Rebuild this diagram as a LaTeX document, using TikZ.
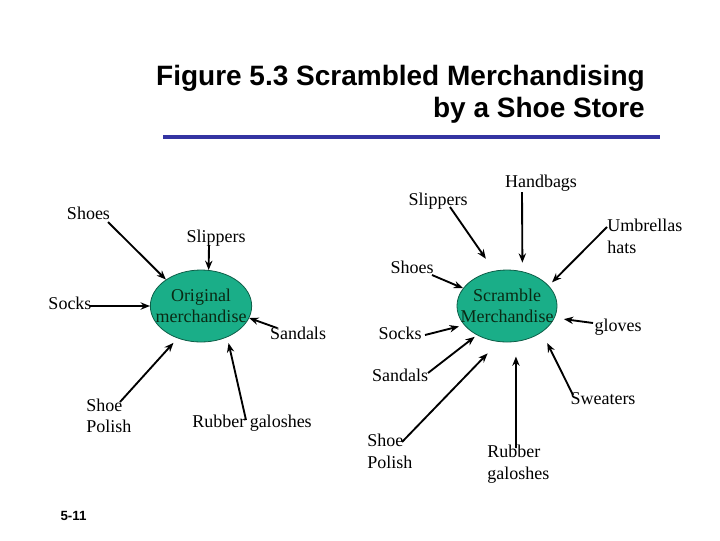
\documentclass[tikz,border=0pt]{standalone}
\usepackage{fontspec}
\setmainfont{Liberation Serif}
\newfontfamily\titlefont{Liberation Sans}
\usetikzlibrary{arrows.meta,shapes.geometric}
\definecolor{blobfill}{HTML}{1AAE88}
\definecolor{blobline}{HTML}{0E5E48}
\definecolor{blobtext}{HTML}{0A2A14}
\definecolor{rulecol}{HTML}{3434A2}

\begin{document}
\begin{tikzpicture}[x=0.75pt, y=-0.75pt,
      lbl/.style={font=\fontsize{13.5}{16.2}\selectfont, inner sep=0pt, align=left},
      blob/.style={ellipse, fill=blobfill, draw=blobline, line width=0.6pt,
                   minimum width=76pt, minimum height=54pt, inner sep=0pt},
      feed/.style={line width=1.4pt, -{Stealth[length=7pt,width=5.5pt]}}
    ]
      \useasboundingbox (0,0) rectangle (720,540);

      % title and rule
      \node[font=\titlefont\bfseries\fontsize{21}{24}\selectfont, align=right, anchor=east, inner sep=0pt]
        (title) at (645,94) {Figure 5.3 Scrambled Merchandising\\by a Shoe Store};
      \draw[rulecol, line width=3pt] (163,137) -- (660,137);

      % original merchandise
      \node[blob] (orig) at (201,306) {};
      \node[lbl, align=center, text=blobtext] (origtxt) at (orig) {Original\\merchandise};

      \node[lbl] (oshoes) at (88.5,213) {Shoes};
      \node[lbl] (oslip) at (216,238) {Slippers};
      \node[lbl] (osocks) at (70,303) {Socks};
      \node[lbl] (osand) at (298,333) {Sandals};
      \node[lbl, anchor=west] (opolish) at (86,416) {Shoe\\Polish};
      \node[lbl] (orubber) at (252,423) {Rubber galoshes};

      \coordinate (t-oshoes) at (108,222);
      \coordinate (t-oslip) at (209,245);
      \coordinate (t-osocks) at (90,306);
      \coordinate (t-osand) at (277,328);
      \coordinate (t-opolish) at (120,402);
      \coordinate (t-orubber) at (246,420);

      \draw[feed] (t-oshoes) -- (orig.143);
      \draw[feed] (t-oslip) -- (orig.78);
      \draw[feed] (t-osocks) -- (orig.180);
      \draw[feed] (t-osand) -- (orig.-14);
      \draw[feed, shorten >=4.5pt] (t-opolish) -- (orig.234);
      \draw[feed, shorten >=4.5pt] (t-orubber) -- (orig.310);

      % scrambled merchandise
      \node[blob, minimum width=75pt] (scr) at (507,306) {};
      \node[lbl, align=center, text=blobtext] (scrtxt) at (scr) {Scramble\\Merchandise};

      \node[lbl] (sbags) at (541,183) {Handbags};
      \node[lbl] (sslip) at (438,201) {Slippers};
      \node[lbl, anchor=west] (sumbr) at (607,236.5) {Umbrellas\\hats};
      \node[lbl] (sshoes) at (412,267) {Shoes};
      \node[lbl] (ssocks) at (400,333) {Socks};
      \node[lbl] (sgloves) at (618,327) {gloves};
      \node[lbl] (ssand) at (400,375) {Sandals};
      \node[lbl, anchor=west] (spolish) at (367,451.5) {Shoe\\Polish};
      \node[lbl, anchor=west] (srubber) at (487,464) {Rubber\\galoshes};
      \node[lbl] (ssweat) at (603,399) {Sweaters};

      \coordinate (t-sbags) at (522,192);
      \coordinate (t-sslip) at (450,207);
      \coordinate (t-sumbr) at (607,227);
      \coordinate (t-sshoes) at (432,275);
      \coordinate (t-ssocks) at (425,335);
      \coordinate (t-sgloves) at (593,323);
      \coordinate (t-ssand) at (428,373);
      \coordinate (t-spolish) at (402,442);
      \coordinate (t-srubber) at (516,448);
      \coordinate (t-ssweat) at (573,395);

      \draw[feed, shorten >=6.5pt] (t-sbags) -- (scr.66);
      \draw[feed, shorten >=11pt] (t-sslip) -- (scr.110);
      \draw[feed, shorten >=3.5pt] (t-sumbr) -- (scr.26);
      \draw[feed] (t-sshoes) -- (scr.158);
      \draw[feed, shorten >=4pt] (t-ssocks) -- (scr.204);
      \draw[feed, shorten >=7pt] (t-sgloves) -- (scr.-14);
      \draw[feed, shorten >=2pt] (t-ssand) -- (scr.224);
      \draw[feed, shorten >=12pt] (t-spolish) -- (scr.257);
      \draw[feed, shorten >=11pt] (t-srubber) -- (scr.284);
      \draw[feed, shorten >=9pt] (t-ssweat) -- (scr.323);

      \node[font=\titlefont\bfseries\fontsize{10}{12}\selectfont, inner sep=0pt] (page) at (73.5,516) {5-11};
    \end{tikzpicture}
\end{document}
